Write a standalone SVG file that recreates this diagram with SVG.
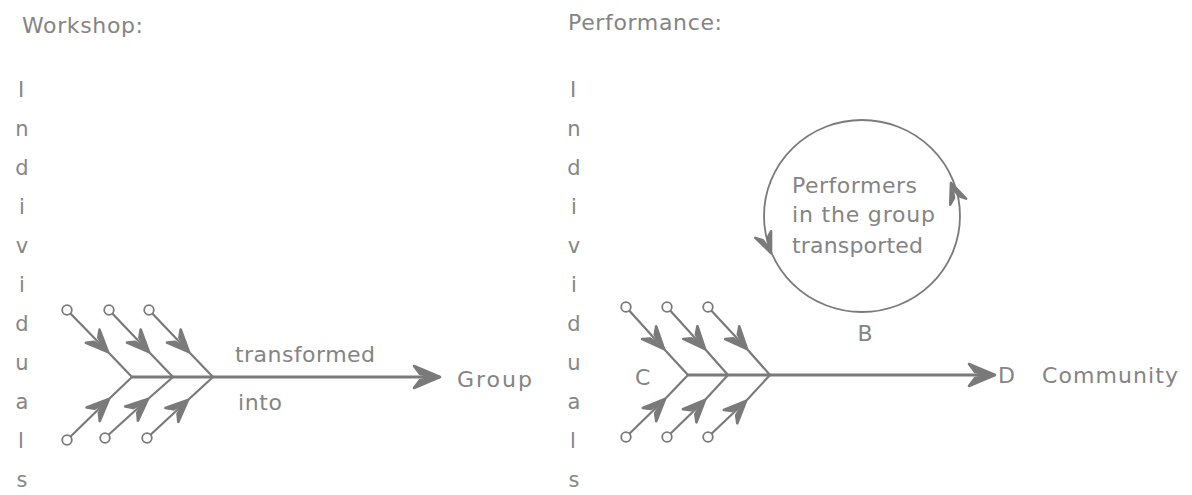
<svg xmlns="http://www.w3.org/2000/svg" xmlns:xlink="http://www.w3.org/1999/xlink" width="1192" height="495" viewBox="0 0 1192 495">
<style>
.t{font-family:"DejaVu Sans","Liberation Sans",sans-serif;font-size:22px;fill:#848484}
.v{font-family:"DejaVu Sans","Liberation Sans",sans-serif;font-size:21px;fill:#868686;text-anchor:middle}
.br{fill:none;stroke:#7a7a7a;stroke-width:2.2;marker-mid:url(#barb)}
.main{fill:none;stroke:#7a7a7a;stroke-width:3}
.end{fill:#fff;stroke:#7a7a7a;stroke-width:1.8}
.chev{fill:#7a7a7a;stroke:#7a7a7a;stroke-width:2.6;stroke-linejoin:round;stroke-linecap:round}
</style>
<defs>
<marker id="barb" markerUnits="userSpaceOnUse" orient="auto" overflow="visible" refX="0" refY="0" markerWidth="1" markerHeight="1">
<path class="chev" d="M0,0 L-22,-9.5 L-17,-3 L-4,0 L-17,3 L-22,9.5 Z"/>
</marker>
<marker id="head" markerUnits="userSpaceOnUse" orient="auto" overflow="visible" refX="0" refY="0" markerWidth="1" markerHeight="1">
<path class="chev" d="M0,0 L-26,-11 L-20,-3 L-4,0 L-20,3 L-26,11 Z"/>
</marker>
<path id="cbarb" class="chev" d="M0,0 L-20,-8.5 L-15,-2.5 L-4,0 L-15,2.5 L-20,8.5 Z"/>
</defs>
<rect width="1192" height="495" fill="#fff"/>

<g id="workshop">
<text class="t" x="22" y="33" textLength="121" lengthAdjust="spacing">Workshop:</text>
<g id="left-individuals">
<text class="v" x="21" y="97">I</text>
<text class="v" x="22" y="136">n</text>
<text class="v" x="22" y="175">d</text>
<text class="v" x="22" y="214">i</text>
<text class="v" x="22" y="253">v</text>
<text class="v" x="22" y="292">i</text>
<text class="v" x="22" y="331">d</text>
<text class="v" x="22" y="370">u</text>
<text class="v" x="22" y="409">a</text>
<text class="v" x="21" y="448">l</text>
<text class="v" x="22" y="487">s</text>
</g>
<text id="transformed" class="t" x="235" y="362" textLength="140" lengthAdjust="spacing">transformed</text>
<text id="into" class="t" x="238" y="410" textLength="44" lengthAdjust="spacing">into</text>
<text id="group" class="t" x="457" y="387" textLength="75" lengthAdjust="spacing">Group</text>
</g>

<g id="performance">
<text class="t" x="568" y="30" textLength="154" lengthAdjust="spacing">Performance:</text>
<g id="right-individuals">
<text class="v" x="573" y="97">I</text>
<text class="v" x="574" y="136">n</text>
<text class="v" x="574" y="175">d</text>
<text class="v" x="574" y="214">i</text>
<text class="v" x="574" y="253">v</text>
<text class="v" x="574" y="292">i</text>
<text class="v" x="574" y="331">d</text>
<text class="v" x="574" y="370">u</text>
<text class="v" x="574" y="409">a</text>
<text class="v" x="573" y="448">l</text>
<text class="v" x="574" y="487">s</text>
</g>
<text id="labelC" class="t" x="635" y="385">C</text>
<text id="labelD" class="t" x="998" y="383">D</text>
<text id="community" class="t" x="1042" y="383" textLength="136" lengthAdjust="spacing">Community</text>
<g id="loop">
<ellipse cx="862" cy="216" rx="98" ry="96" fill="none" stroke="#7a7a7a" stroke-width="1.8"/>
<use xlink:href="#cbarb" transform="translate(771,253) rotate(67)"/>
<use xlink:href="#cbarb" transform="translate(951,183) rotate(-111)"/>
<text class="t" x="792" y="193" textLength="125" lengthAdjust="spacing">Performers</text>
<text class="t" x="792" y="222" textLength="143" lengthAdjust="spacing">in the group</text>
<text class="t" x="792" y="253" textLength="131" lengthAdjust="spacing">transported</text>
</g>
<text id="labelB" class="t" x="865" y="341" text-anchor="middle">B</text>
</g>

<g id="connectors">
<polyline class="br" points="67,310 108,352 132,377"/>
<polyline class="br" points="109,310 149,352 173,377"/>
<polyline class="br" points="149,310 189,352 213,377"/>
<polyline class="br" points="67,440 109,399 132,377"/>
<polyline class="br" points="105,438 148,399 173,377"/>
<polyline class="br" points="147,438 188,400 213,377"/>
<line class="main" x1="132" y1="377" x2="440" y2="377" marker-end="url(#head)"/>
<circle class="end" cx="67" cy="310" r="4.8"/>
<circle class="end" cx="109" cy="310" r="4.8"/>
<circle class="end" cx="149" cy="310" r="4.8"/>
<circle class="end" cx="67" cy="440" r="4.8"/>
<circle class="end" cx="105" cy="438" r="4.8"/>
<circle class="end" cx="147" cy="438" r="4.8"/>
<polyline class="br" points="626,307 664,349 688,375"/>
<polyline class="br" points="667,307 705,349 728,375"/>
<polyline class="br" points="708,307 747,349 770,375"/>
<polyline class="br" points="626,437 665,399 688,375"/>
<polyline class="br" points="667,437 705,400 728,375"/>
<polyline class="br" points="708,437 746,401 770,375"/>
<line class="main" x1="688" y1="375" x2="995" y2="375" marker-end="url(#head)"/>
<circle class="end" cx="626" cy="307" r="4.8"/>
<circle class="end" cx="667" cy="307" r="4.8"/>
<circle class="end" cx="708" cy="307" r="4.8"/>
<circle class="end" cx="626" cy="437" r="4.8"/>
<circle class="end" cx="667" cy="437" r="4.8"/>
<circle class="end" cx="708" cy="437" r="4.8"/>
</g>
</svg>
